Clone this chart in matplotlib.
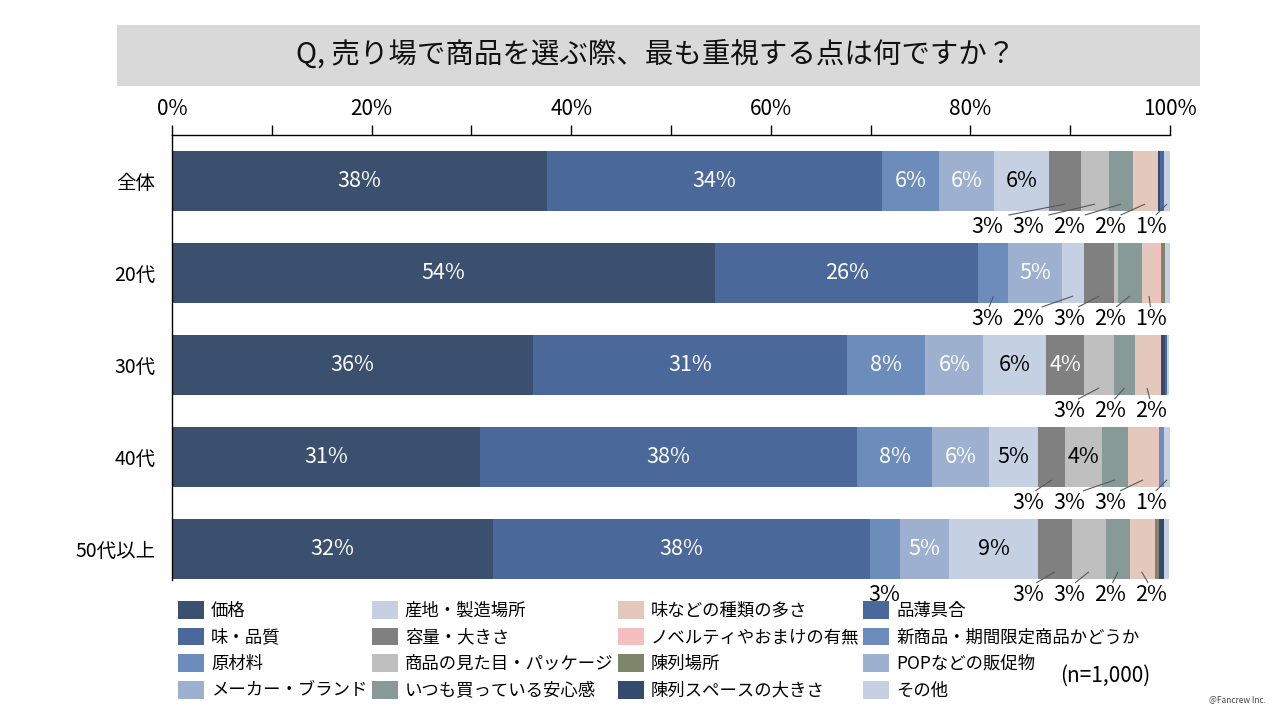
import matplotlib
matplotlib.use("Agg")
import matplotlib.pyplot as plt
from matplotlib.patches import Rectangle, Patch

plt.rcParams['font.family'] = ['Noto Sans CJK JP', 'DejaVu Sans']

title = "Q, 売り場で商品を選ぶ際、最も重視する点は何ですか？"
groups = ["全体", "20代", "30代", "40代", "50代以上"]
categories = ["価格", "味・品質", "原材料", "メーカー・ブランド",
              "産地・製造場所", "容量・大きさ", "商品の見た目・パッケージ", "いつも買っている安心感",
              "味などの種類の多さ", "ノベルティやおまけの有無", "陳列場所", "陳列スペースの大きさ",
              "品薄具合", "新商品・期間限定商品かどうか", "POPなどの販促物", "その他"]
colors = ["#3B4F6F", "#4A6899", "#6C8CBB", "#9DB0CF",
          "#C5D0E3", "#808080", "#BFBFBF", "#889A98",
          "#E4C8BC", "#F6BFBF", "#7F856A", "#344B6E",
          "#4A6899", "#6C8CBB", "#9DB0CF", "#C5D0E3"]
# order follows categories
v_all = [37.6, 33.5, 5.8, 5.5, 5.5, 3.2, 2.8, 2.4, 2.4, 0.1, 0.0, 0.2, 0.4, 0.0, 0.0, 0.6]
v_20 = [54.4, 26.4, 3.0, 5.4, 2.2, 3.0, 0.4, 2.4, 1.4, 0.5, 0.4, 0.0, 0.0, 0.0, 0.0, 0.5]
v_30 = [36.2, 31.4, 7.9, 5.8, 6.3, 3.8, 3.0, 2.1, 2.4, 0.2, 0.0, 0.4, 0.2, 0.0, 0.0, 0.2]
v_40 = [30.9, 37.7, 7.6, 5.7, 4.9, 2.7, 3.7, 2.6, 3.0, 0.1, 0.0, 0.0, 0.0, 0.5, 0.0, 0.6]
v_50 = [32.2, 37.7, 3.0, 5.0, 8.9, 3.35, 3.45, 2.4, 2.3, 0.2, 0.4, 0.5, 0.0, 0.0, 0.0, 0.5]
rows = [v_all, v_20, v_30, v_40, v_50]
sample_note = "(n=1,000)"
credit = "@Fancrew Inc."

white_text = {0, 1, 2, 3, 5, 11, 12, 13}
bar_h = 0.652

fig = plt.figure(figsize=(12.8, 7.2), dpi=100)
W, H = 1280, 720
ax = fig.add_axes([172 / W, 1 - 580 / H, 998 / W, 445 / H])

fig.add_artist(Rectangle((117 / W, 1 - 86 / H), (1200 - 117) / W, 61 / H,
                         transform=fig.transFigure, facecolor="#D9D9D9", edgecolor="none"))
fig.text(656 / W, 1 - 55 / H, title, ha="center", va="center", fontsize=20.5, color="#111111")

for i, vals in enumerate(rows):
    left = 0.0
    below = []
    for j, v in enumerate(vals):
        if v > 0:
            ax.barh(i, v, left=left, height=bar_h, color=colors[j], edgecolor="none")
        c = left + v / 2
        lab = f"{v:.0f}%"
        if v >= 3.5:
            ax.text(c, i, lab, ha="center", va="center", fontsize=15.5,
                    color="white" if j in white_text else "black")
        elif v >= 0.55:
            below.append((c, lab))
        left += v
    n = len(below)
    bb = i + bar_h / 2
    for k, (c, lab) in enumerate(below):
        packed = 98.1 - 4.1 * (n - 1 - k)
        x = c if c < packed - 2.0 else packed
        ax.text(x, i + 0.5, lab, ha="center", va="center", fontsize=15.5,
                color="black", clip_on=False)
        if x != c:
            d = c - x
            sx = x + max(-2.1, min(2.1, d * 0.3))
            ax.plot([sx, c], [bb + 0.045, bb - 0.075], color="#595959", lw=0.8,
                    solid_capstyle="butt", clip_on=False)

ax.set_xlim(0, 100)
ax.set_ylim(4.34, -0.5)
ax.set_yticks(range(len(groups)))
ax.set_yticklabels(groups, fontsize=14)
ax.tick_params(axis="y", length=0, pad=12)
ax.xaxis.set_ticks_position("top")
ax.set_xticks(range(0, 101, 10))
ax.set_xticklabels([f"{t}%" if t % 20 == 0 else "" for t in range(0, 101, 10)])
ax.tick_params(axis="x", direction="out", length=7, width=1, labelsize=15, pad=4, colors="black")
for s in ["right", "bottom"]:
    ax.spines[s].set_visible(False)
for s in ["top", "left"]:
    ax.spines[s].set_linewidth(1.0)
    ax.spines[s].set_color("black")

handles = [Patch(facecolor=c, edgecolor="none") for c in colors]
fig.legend(handles, categories, ncol=4, loc="upper left",
           bbox_to_anchor=(178 / W, 1 - 601 / H), frameon=False, fontsize=12.5,
           handlelength=1.5, handleheight=1.2, handletextpad=0.4,
           columnspacing=0.25, labelspacing=0.45, borderaxespad=0, borderpad=0)

fig.text(1105 / W, 1 - 676 / H, sample_note, ha="center", va="center", fontsize=15)
fig.text(1266 / W, 1 - 700 / H, credit, ha="right", va="center", fontsize=6, color="#444444")

fig.savefig("out.png", dpi=100)
